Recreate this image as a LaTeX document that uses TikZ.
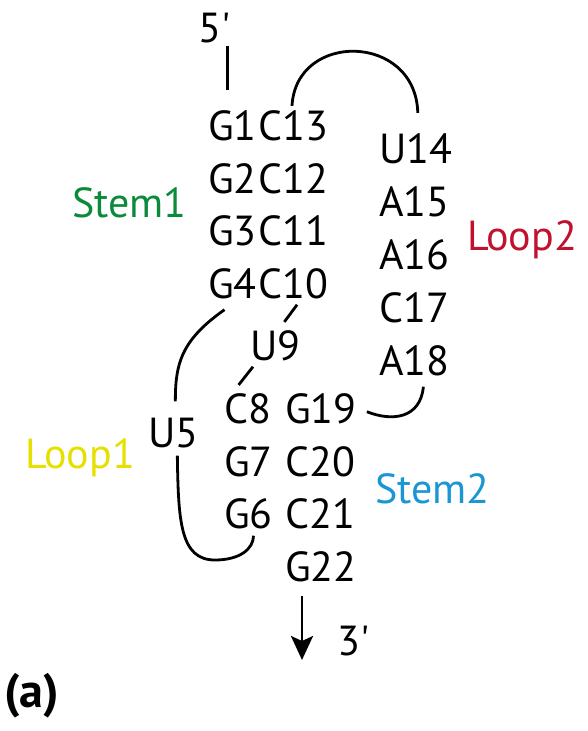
\documentclass[tikz,border=0pt]{standalone}
\usepackage{fontspec}
\setmainfont{PT Sans}
\usetikzlibrary{arrows.meta}
\definecolor{stemgreen}{HTML}{0A8A3A}
\definecolor{loopred}{HTML}{C0112E}
\definecolor{loopyellow}{HTML}{E6E000}
\definecolor{stemblue}{HTML}{1A96D4}
\begin{document}
\begin{tikzpicture}[x=1pt,y=-1pt,
  nt/.style={inner sep=0pt, anchor=base west, font=\fontsize{42}{50}\selectfont},
  lbl/.style={nt},
  conn/.style={line width=2.8pt},
]
\useasboundingbox (0,0) rectangle (587,731);
% 5' end
\node[nt] (p5) at (198,42) {5\textquotesingle};
% Stem1
\node[nt] (G1) at (208,140) {G1};
\node[nt] (C13) at (258,140) {C13};
\node[nt] (G2) at (208,193) {G2};
\node[nt] (C12) at (258,193) {C12};
\node[nt] (G3) at (208,245) {G3};
\node[nt] (C11) at (258,245) {C11};
\node[nt] (G4) at (208,298) {G4};
\node[nt] (C10) at (258,298) {C10};
% Loop2
\node[nt] (U14) at (379,163) {U14};
\node[nt] (A15) at (379,216) {A15};
\node[nt] (A16) at (379,269) {A16};
\node[nt] (C17) at (379,322) {C17};
\node[nt] (A18) at (379,375) {A18};
% U9
\node[nt] (U9) at (250,360) {U9};
% Stem2
\node[nt] (C8) at (224,423) {C8};
\node[nt] (G19) at (285,423) {G19};
\node[nt] (G7) at (224,476) {G7};
\node[nt] (C20) at (285,476) {C20};
\node[nt] (G6) at (224,528) {G6};
\node[nt] (C21) at (285,528) {C21};
\node[nt] (G22) at (285,581) {G22};
% U5
\node[nt] (U5) at (148,447) {U5};
% 3' end
\node[nt] (p3) at (337,655) {3\textquotesingle};
\coordinate (arrS) at (302,596);
\coordinate (arrE) at (302,660);
% labels
\node[lbl, text=stemgreen] (stem1) at (72,217) {Stem1};
\node[lbl, text=loopred] (loop2) at (467,250) {Loop2};
\node[lbl, text=loopyellow] (loop1) at (25,468) {Loop1};
\node[lbl, text=stemblue] (stem2) at (375,503) {Stem2};
\node[nt, font=\fontsize{48}{56}\selectfont\bfseries] (tag) at (4,707) {(a)};
% connectors
\coordinate (g1top) at ([xshift=-5pt,yshift=20pt]G1.north);
\coordinate (p5bot) at ([yshift=-3pt]p5.south);
\draw[conn] (g1top |- p5bot) -- (g1top);
\draw[conn] ([xshift=34pt,yshift=4pt]C13.north west) .. controls +(4,-75) and +(-2,-80) .. ([xshift=2pt,yshift=20pt]U14.north);
\draw[conn] ([xshift=9pt,yshift=-11pt]A18.south) .. controls +(-3,32) and +(25,10) .. ([xshift=10pt,yshift=12pt]G19.south east);
\draw[conn] ([xshift=-8pt,yshift=-11pt]G4.south) .. controls +(-44,31) and +(0,-37) .. ([xshift=2pt,yshift=16pt]U5.north);
\draw[conn] ([xshift=4pt,yshift=-8pt]U5.south) .. controls +(1,65) and +(-35,0) .. (215,560) .. controls +(25,0) and +(0,13) .. ([xshift=5pt,yshift=-7pt]G6.south);
\draw[conn] ([xshift=4pt,yshift=-6pt]C10.south) -- ([xshift=9pt,yshift=8pt]U9.north);
\draw[conn] ([xshift=3pt,yshift=-6pt]U9.south west) -- ([xshift=-9pt,yshift=8pt]C8.north);
\draw[conn, -{Stealth[length=24pt,width=22pt,inset=5pt]}] (arrS) -- (arrE);
\end{tikzpicture}
\end{document}
